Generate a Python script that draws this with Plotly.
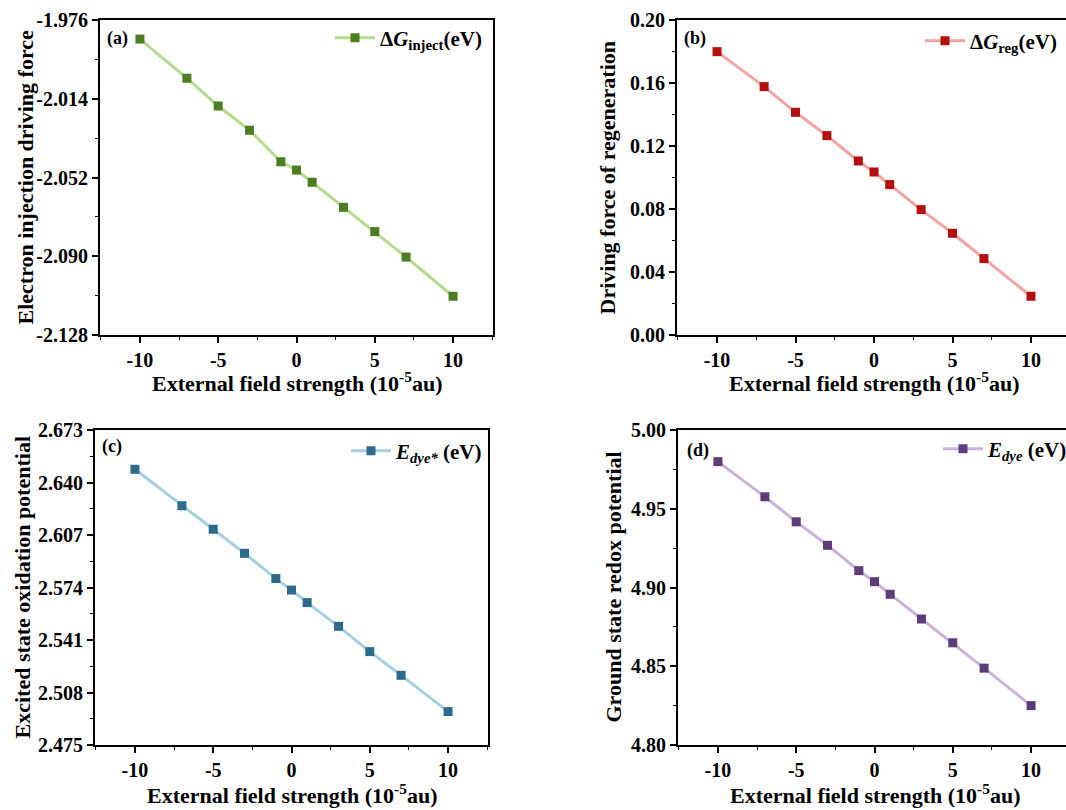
import plotly.graph_objects as go

W, H = 1066, 810

field = [-10, -7, -5, -3, -1, 0, 1, 3, 5, 7, 10]
dg_inject = [-1.9852, -2.0041, -2.0175, -2.0292, -2.0444, -2.0484, -2.0543, -2.0664, -2.0781, -2.0904, -2.1093]
dg_reg = [0.1799, 0.1577, 0.1414, 0.1266, 0.1105, 0.1035, 0.0955, 0.0796, 0.0646, 0.0485, 0.0246]
e_dye_star = [2.6483, 2.6254, 2.6106, 2.5955, 2.5796, 2.5724, 2.5645, 2.5496, 2.5337, 2.5188, 2.4960]
e_dye = [4.9799, 4.9576, 4.9417, 4.9268, 4.9107, 4.9037, 4.8957, 4.8800, 4.8649, 4.8488, 4.8250]

x_ticks = [-10, -5, 0, 5, 10]
x_ticklabels = ["-10", "-5", "0", "5", "10"]
a_ticks = [-2.128, -2.090, -2.052, -2.014, -1.976]
a_ticklabels = ["-2.128", "-2.090", "-2.052", "-2.014", "-1.976"]
b_ticks = [0.00, 0.04, 0.08, 0.12, 0.16, 0.20]
b_ticklabels = ["0.00", "0.04", "0.08", "0.12", "0.16", "0.20"]
c_ticks = [2.475, 2.508, 2.541, 2.574, 2.607, 2.640, 2.673]
c_ticklabels = ["2.475", "2.508", "2.541", "2.574", "2.607", "2.640", "2.673"]
d_ticks = [4.80, 4.85, 4.90, 4.95, 5.00]
d_ticklabels = ["4.80", "4.85", "4.90", "4.95", "5.00"]

FONT = "Liberation Serif, Times New Roman, serif"

panels = [
    dict(series=dg_inject, name="<b>Δ<i>G</i><sub>inject</sub>(eV)</b>", line="#b4dc8e", marker="#4b7d22",
         px=(100, 493, 20, 335), xr=[-12.55, 12.55], yr=[-2.128, -1.976], tv=a_ticks, tt=a_ticklabels, mdt=0.019,
         ytitle="Electron injection driving force", ytx=25, xty=382, label="(a)", lab=(105, 38),
         leg=(336, 38), right_frame=True),
    dict(series=dg_reg, name="<b>Δ<i>G</i><sub>reg</sub>(eV)</b>", line="#f4a3a3", marker="#b30f0f",
         px=(677, 1066, 20, 335), xr=[-12.55, 12.23], yr=[0.0, 0.2], tv=b_ticks, tt=b_ticklabels, mdt=0.02,
         ytitle="Driving force of regeneration", ytx=607, xty=382, label="(b)", lab=(682, 38),
         leg=(926, 41), right_frame=False),
    dict(series=e_dye_star, name="<b><i>E</i><sub><i>dye*</i></sub> (eV)</b>", line="#a7cfe4", marker="#2e6a8c",
         px=(95, 488, 430, 745), xr=[-12.55, 12.55], yr=[2.475, 2.673], tv=c_ticks, tt=c_ticklabels, mdt=0.0165,
         ytitle="Excited state oxidation potential", ytx=22, xty=794, label="(c)", lab=(100, 447),
         leg=(352, 451), right_frame=True),
    dict(series=e_dye, name="<b><i>E</i><sub><i>dye</i></sub> (eV)</b>", line="#c9b2db", marker="#5d3c7a",
         px=(678, 1066, 430, 745), xr=[-12.55, 12.23], yr=[4.80, 5.00], tv=d_ticks, tt=d_ticklabels, mdt=0.025,
         ytitle="Ground state redox potential", ytx=613, xty=794, label="(d)", lab=(685, 450),
         leg=(944, 449), right_frame=False),
]

fig = go.Figure()
annotations = []
layout = {}

for i, p in enumerate(panels, start=1):
    xa = "x" if i == 1 else f"x{i}"
    ya = "y" if i == 1 else f"y{i}"
    lg = "legend" if i == 1 else f"legend{i}"
    l, r, t, b = p["px"]
    fig.add_trace(go.Scatter(
        x=field, y=p["series"], mode="lines+markers", name=p["name"],
        line=dict(color=p["line"], width=3),
        marker=dict(symbol="square", size=9, color=p["marker"]),
        xaxis=xa, yaxis=ya, legend=lg, showlegend=True,
    ))
    xkey = "xaxis" if i == 1 else f"xaxis{i}"
    ykey = "yaxis" if i == 1 else f"yaxis{i}"
    layout[xkey] = dict(
        domain=[l / W, r / W], anchor=ya, range=p["xr"], automargin=False,
        tickvals=x_ticks, ticktext=x_ticklabels,
        ticks="outside", ticklen=6, tickwidth=1.5, tickcolor="black",
        minor=dict(dtick=2.5, tick0=0, ticks="outside", ticklen=3, tickwidth=1.2, tickcolor="black"),
        showline=True, linewidth=2, linecolor="black", mirror=True,
        showgrid=False, zeroline=False,
        tickfont=dict(family=FONT, size=20, color="black", weight="bold"),
    )
    layout[ykey] = dict(
        domain=[1 - b / H, 1 - t / H], anchor=xa, range=p["yr"], automargin=False,
        tickvals=p["tv"], ticktext=p["tt"],
        ticks="outside", ticklen=6, tickwidth=1.5, tickcolor="black",
        minor=dict(dtick=p["mdt"], tick0=p["tv"][0], ticks="outside", ticklen=3, tickwidth=1.2, tickcolor="black"),
        showline=True, linewidth=2, linecolor="black", mirror=p["right_frame"],
        showgrid=False, zeroline=False,
        tickfont=dict(family=FONT, size=20, color="black", weight="bold"),
    )
    lx, ly = p["leg"]
    layout[lg] = dict(
        x=(lx - 6) / W, y=1 - ly / H,
        xanchor="left", yanchor="middle", bgcolor="rgba(0,0,0,0)",
        font=dict(family=FONT, size=21, color="black"),
        itemwidth=40,
    )
    annotations.append(dict(
        text=f"<b>{p['ytitle']}</b>", x=p["ytx"] / W, y=1 - (t + b) / 2 / H,
        xref="paper", yref="paper", textangle=-90, showarrow=False,
        xanchor="center", yanchor="middle",
        font=dict(family=FONT, size=22, color="black"),
    ))
    cx = (l + (r if p["right_frame"] else l + 393)) / 2
    annotations.append(dict(
        text="<b>External field strength (10<sup>-5</sup>au)</b>", x=cx / W, y=1 - p["xty"] / H,
        xref="paper", yref="paper", showarrow=False, xanchor="center", yanchor="middle",
        font=dict(family=FONT, size=22, color="black"),
    ))
    annotations.append(dict(
        text=f"<b>{p['label']}</b>", x=p["lab"][0] / W, y=1 - p["lab"][1] / H,
        xref="paper", yref="paper", showarrow=False, xanchor="left", yanchor="middle",
        font=dict(family=FONT, size=18, color="black"),
    ))

fig.update_layout(
    width=W, height=H, margin=dict(l=0, r=0, t=0, b=0, pad=0, autoexpand=False),
    paper_bgcolor="white", plot_bgcolor="white",
    annotations=annotations, **layout,
)

fig.write_html(
    "out.html",
    config={"displayModeBar": False},
    post_script="document.body.style.margin='0';document.body.style.overflow='hidden';",
)
